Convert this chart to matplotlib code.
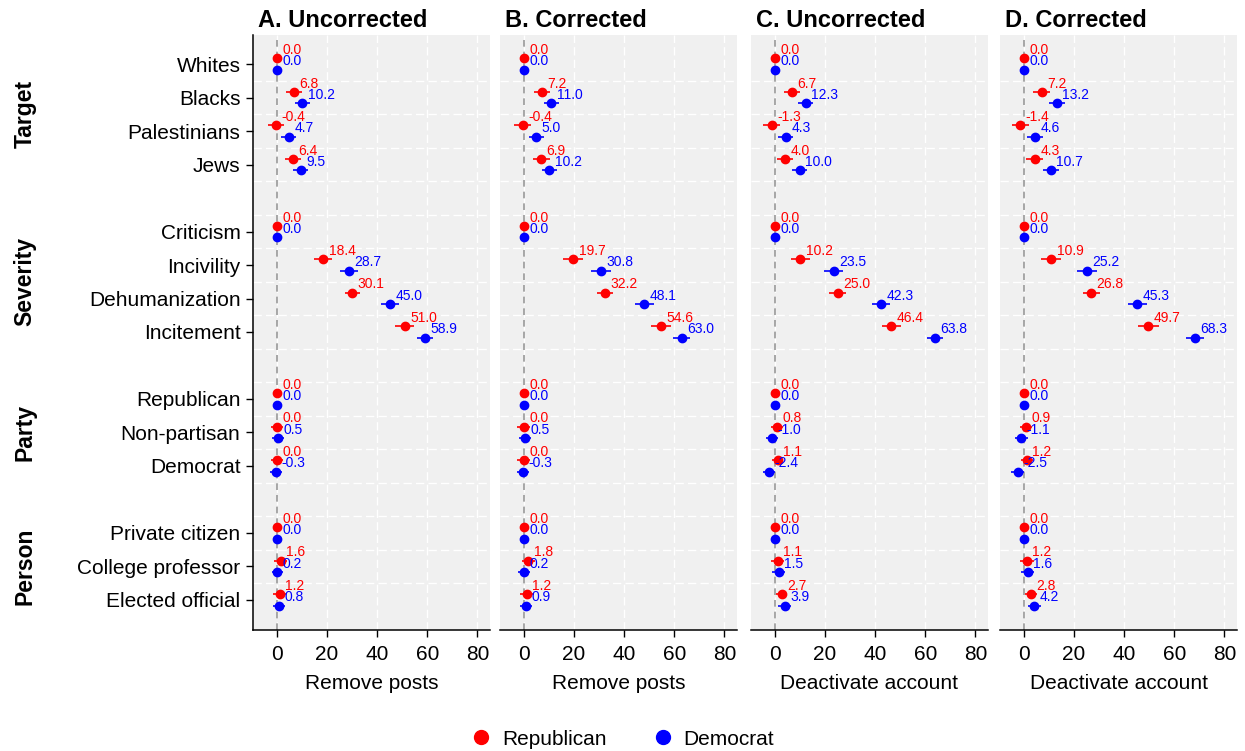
import matplotlib
matplotlib.use("Agg")
import matplotlib.pyplot as plt
import matplotlib.transforms as mtransforms
from matplotlib.lines import Line2D
import numpy as np

plt.rcParams['font.family'] = ['Liberation Sans', 'DejaVu Sans']

# categories (top to bottom) and their row position
categories = ['Whites', 'Blacks', 'Palestinians', 'Jews',
              'Criticism', 'Incivility', 'Dehumanization', 'Incitement',
              'Republican', 'Non-partisan', 'Democrat',
              'Private citizen', 'College professor', 'Elected official']
rows = [0, 1, 2, 3, 5, 6, 7, 8, 10, 11, 12, 14, 15, 16]
groups = ['Target', 'Severity', 'Party', 'Person']
group_rows = [1.5, 6.5, 11, 15]

titles = ['A. Uncorrected', 'B. Corrected', 'C. Uncorrected', 'D. Corrected']
xlabels = ['Remove posts', 'Remove posts', 'Deactivate account', 'Deactivate account']

# point estimates
rep_a = [0.0, 6.8, -0.4, 6.4, 0.0, 18.4, 30.1, 51.0, 0.0, 0.0, 0.0, 0.0, 1.6, 1.2]
dem_a = [0.0, 10.2, 4.7, 9.5, 0.0, 28.7, 45.0, 58.9, 0.0, 0.5, -0.3, 0.0, 0.2, 0.8]
rep_b = [0.0, 7.2, -0.4, 6.9, 0.0, 19.7, 32.2, 54.6, 0.0, 0.0, 0.0, 0.0, 1.8, 1.2]
dem_b = [0.0, 11.0, 5.0, 10.2, 0.0, 30.8, 48.1, 63.0, 0.0, 0.5, -0.3, 0.0, 0.2, 0.9]
rep_c = [0.0, 6.7, -1.3, 4.0, 0.0, 10.2, 25.0, 46.4, 0.0, 0.8, 1.1, 0.0, 1.1, 2.7]
dem_c = [0.0, 12.3, 4.3, 10.0, 0.0, 23.5, 42.3, 63.8, 0.0, -1.0, -2.4, 0.0, 1.5, 3.9]
rep_d = [0.0, 7.2, -1.4, 4.3, 0.0, 10.9, 26.8, 49.7, 0.0, 0.9, 1.2, 0.0, 1.2, 2.8]
dem_d = [0.0, 13.2, 4.6, 10.7, 0.0, 25.2, 45.3, 68.3, 0.0, -1.1, -2.5, 0.0, 1.6, 4.2]

# half-width of the confidence intervals
rep_a_ci = [0, 3.1, 3.3, 3.3, 0, 3.7, 3.0, 3.8, 0, 2.5, 2.5, 0, 2.6, 2.6]
dem_a_ci = [0, 3.0, 3.0, 3.0, 0, 3.7, 3.6, 3.2, 0, 2.3, 2.3, 0, 2.3, 2.3]
rep_b_ci = [0, 3.2, 3.4, 3.4, 0, 3.9, 3.2, 4.0, 0, 2.6, 2.6, 0, 2.7, 2.7]
dem_b_ci = [0, 3.1, 3.1, 3.1, 0, 3.9, 3.8, 3.4, 0, 2.4, 2.4, 0, 2.4, 2.4]
rep_c_ci = [0, 3.2, 3.3, 3.3, 0, 3.7, 3.2, 3.8, 0, 2.3, 2.3, 0, 2.7, 2.3]
dem_c_ci = [0, 3.1, 3.0, 3.0, 0, 3.7, 3.6, 3.3, 0, 2.4, 2.5, 0, 2.5, 2.5]
rep_d_ci = [0, 3.4, 3.5, 3.5, 0, 3.9, 3.4, 4.0, 0, 2.5, 2.5, 0, 2.8, 2.5]
dem_d_ci = [0, 3.3, 3.2, 3.2, 0, 3.9, 3.8, 3.5, 0, 2.6, 2.7, 0, 2.6, 2.6]

rep_all = [rep_a, rep_b, rep_c, rep_d]
dem_all = [dem_a, dem_b, dem_c, dem_d]
rep_ci_all = [rep_a_ci, rep_b_ci, rep_c_ci, rep_d_ci]
dem_ci_all = [dem_a_ci, dem_b_ci, dem_c_ci, dem_d_ci]

W, H = 1245, 751
fig = plt.figure(figsize=(W / 100, H / 100), dpi=100)

lefts = [253, 500, 751, 1000]
pw = 237
bottom = 1 - 630 / H
height = 595 / H

rows = np.array(rows)
axes = []
for i in range(4):
    ax = fig.add_axes([lefts[i] / W, bottom, pw / W, height])
    axes.append(ax)
    ax.set_facecolor('#f0f0f0')
    ax.set_xlim(-9.5, 85)
    ax.set_ylim(16.9, -0.87)

    # grid
    ax.set_xticks([0, 20, 40, 60, 80])
    ax.set_yticks(np.arange(0.5, 16, 1), minor=True)
    ax.grid(True, which='major', axis='x', color='white', linestyle=(0, (6, 3)), linewidth=1)
    ax.grid(True, which='minor', axis='y', color='white', linestyle=(0, (6, 3)), linewidth=1)
    ax.tick_params(axis='y', which='minor', length=0)
    ax.set_axisbelow(True)
    ax.axvline(0, color='#999999', linestyle=(0, (4, 3)), linewidth=1.2, zorder=1)

    for s in ['top', 'right']:
        ax.spines[s].set_visible(False)
    ax.spines['bottom'].set_linewidth(1.1)
    ax.tick_params(axis='x', labelsize=15, length=5, width=1, pad=6)

    if i == 0:
        ax.set_yticks(rows)
        ax.set_yticklabels(categories, fontsize=15)
        ax.tick_params(axis='y', which='major', length=5, width=1, pad=4)
        ax.spines['left'].set_linewidth(1.1)
    else:
        ax.set_yticks(rows)
        ax.set_yticklabels([])
        ax.tick_params(axis='y', which='major', length=0)
        ax.spines['left'].set_visible(False)

    ax.set_title(titles[i], loc='left', fontsize=17, fontweight='bold', pad=6, x=0.02)
    ax.set_xlabel(xlabels[i], fontsize=15, labelpad=7)

    for vals, ci, col, off in [(rep_all[i], rep_ci_all[i], 'red', -0.17),
                               (dem_all[i], dem_ci_all[i], 'blue', 0.17)]:
        ys = rows + off
        ax.errorbar(vals, ys, xerr=ci, fmt='o', color=col, markersize=6,
                    elinewidth=1.2, capsize=0, zorder=3)
        for v, y in zip(vals, ys):
            ax.annotate(f'{v:.1f}', (v, y), xytext=(4, 6), textcoords='offset points',
                        ha='left', va='center', fontsize=10, color=col, zorder=4)

# group labels
trans = mtransforms.blended_transform_factory(fig.transFigure, axes[0].transData)
for g, gy in zip(groups, group_rows):
    axes[0].text(25 / W, gy, g, transform=trans, rotation=90, ha='center', va='center',
                 fontsize=16.5, fontweight='bold')

handles = [Line2D([], [], marker='o', linestyle='none', color='red', markersize=10),
           Line2D([], [], marker='o', linestyle='none', color='blue', markersize=10)]
fig.legend(handles, ['Republican', 'Democrat'], loc='lower center', bbox_to_anchor=(0.5, -0.022),
           ncol=2, frameon=False, fontsize=15, handlelength=1.0, handletextpad=0.5,
           columnspacing=2.2)

fig.savefig('out.png', dpi=100)
